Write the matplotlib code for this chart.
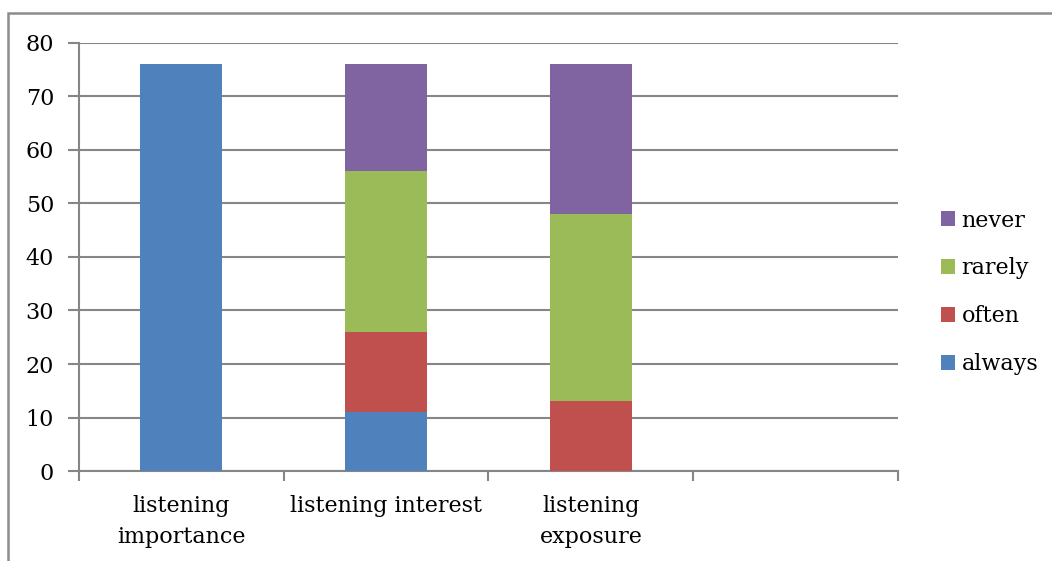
import numpy as np
import matplotlib.pyplot as plt
from matplotlib.patches import Rectangle

# data
categories = ["listening\nimportance", "listening interest", "listening\nexposure", ""]
always = [76, 11, 0, 0]
often = [0, 15, 13, 0]
rarely = [0, 30, 35, 0]
never = [0, 20, 28, 0]

colors = {"always": "#4f81bd", "often": "#c0504d", "rarely": "#9bbb59", "never": "#8064a2"}
grid_col = "#868686"

plt.rcParams['font.family'] = ['DejaVu Serif']
fs = 16

fig = plt.figure(figsize=(10.52, 5.61), dpi=100)
ax = fig.add_axes([0.0751, 0.1604, 0.7785, 0.763])

x = np.arange(len(categories))
w = 0.4
bottom = np.zeros(len(categories))
handles = []
for name, vals in [("always", always), ("often", often), ("rarely", rarely), ("never", never)]:
    b = ax.bar(x, vals, w, bottom=bottom, color=colors[name], label=name, zorder=3)
    handles.append(b)
    bottom += np.array(vals)

ax.set_ylim(0, 80)
ax.set_xlim(-0.5, 3.5)
ax.set_yticks(range(0, 81, 10))
ax.yaxis.grid(True, color=grid_col, linewidth=1.5, zorder=0)
ax.set_xticks(x)
ax.set_xticklabels(categories, fontsize=fs, linespacing=1.55)
ax.set_xticks(np.arange(-0.5, 3.6, 1), minor=True)
ax.tick_params(axis='x', which='major', length=0, pad=17)
ax.tick_params(axis='x', which='minor', length=7, width=1.5, color=grid_col)
ax.tick_params(axis='y', length=8, width=1.5, color=grid_col, labelsize=fs, pad=10)
for s in ['top', 'right']:
    ax.spines[s].set_visible(False)
for s in ['left', 'bottom']:
    ax.spines[s].set_color(grid_col)
    ax.spines[s].set_linewidth(1.5)

leg = fig.legend(handles[::-1], ["always", "often", "rarely", "never"][::-1],
                 loc='upper left', bbox_to_anchor=(0.875, 0.662), frameon=False,
                 fontsize=fs, handlelength=0.65, handleheight=0.65,
                 handletextpad=0.3, labelspacing=1.16)

# outer chart border (cropped at right and bottom)
fig.patches.append(Rectangle((8 / 1052, -0.1), 1.2, 1 - 13 / 561 + 0.1,
                             transform=fig.transFigure, fill=False,
                             edgecolor="#8c8c8c", linewidth=1.8))

fig.savefig("out.png", dpi=100)
